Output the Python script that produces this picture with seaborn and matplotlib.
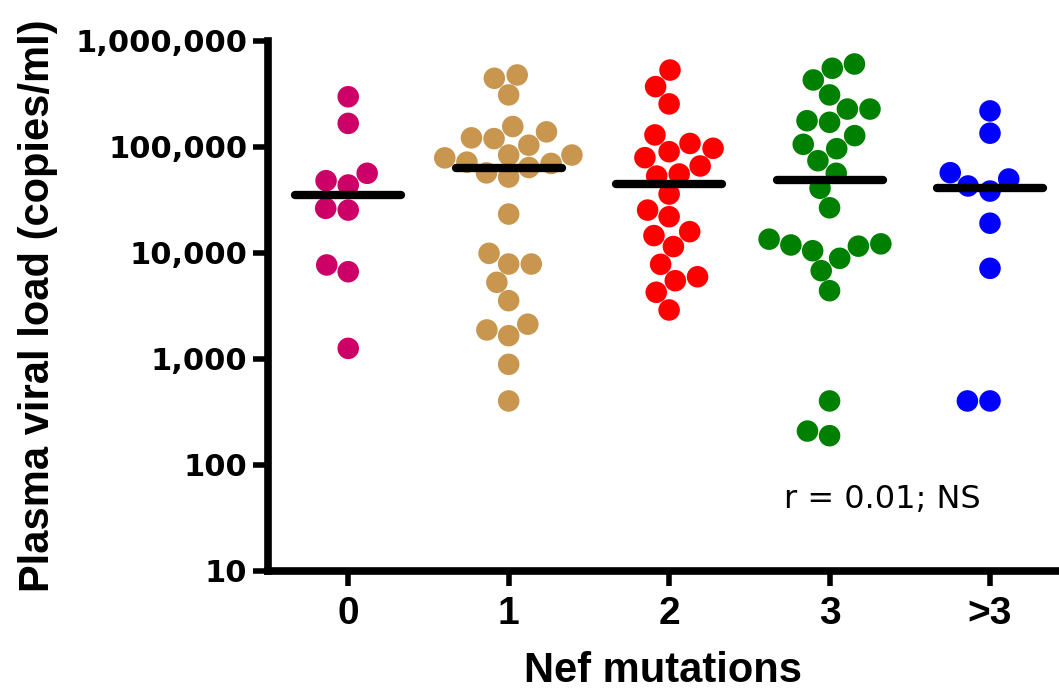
import numpy as np
import pandas as pd
import matplotlib
matplotlib.use("Agg")
import matplotlib.pyplot as plt
import seaborn as sns

# viral load (copies/ml) per Nef mutation group
groups = ["0", "1", "2", "3", ">3"]
load_0 = [1260, 6660, 7710, 25400, 26400, 43800, 48100, 56500, 167000, 298000]
load_1 = [402, 891, 1660, 1880, 2130, 3550, 5290, 7870, 7870, 9930, 23300,
          52000, 57000, 64000, 70000, 72000, 79000, 84000, 84000, 104000,
          120000, 122000, 139000, 156000, 310000, 445000, 478000]
load_2 = [2900, 4260, 5480, 5970, 7820, 11500, 14600, 15900, 22000, 25400,
          36000, 53200, 55600, 66200, 79300, 90300, 97200, 108000, 130000,
          255000, 371000, 532000]
load_3 = [189, 209, 402, 4410, 6810, 8910, 10500, 11600, 11900, 12200, 13500,
          26700, 40800, 56500, 74300, 96400, 106000, 128000, 171000, 177000,
          228000, 228000, 310000, 429000, 553000, 607000]
load_4 = [402, 402, 7170, 19100, 38400, 42900, 49900, 57200, 135000, 219000]
colors = ["#CC0066", "#C8964F", "#FF0000", "#008000", "#0000FF"]
yticks = [10, 100, 1000, 10000, 100000, 1000000]
yticklabels = ["10", "100", "1,000", "10,000", "100,000", "1,000,000"]
annotation = "r = 0.01; NS"

df = pd.concat([
    pd.DataFrame({"group": g, "load": v})
    for g, v in zip(groups, [load_0, load_1, load_2, load_3, load_4])
], ignore_index=True)
df["group"] = pd.Categorical(df["group"], categories=groups, ordered=True)
medians = df.groupby("group", observed=False)["load"].median()

sns.set_style("ticks", {"axes.edgecolor": "black", "text.color": "black",
                        "xtick.color": "black", "ytick.color": "black",
                        "axes.labelcolor": "black"})
plt.rcParams["font.family"] = ["Liberation Sans", "DejaVu Sans"]

fig = plt.figure(figsize=(10.59, 6.94), dpi=100)
ax = fig.add_axes([268 / 1059, 123 / 694, 791 / 1059, 530 / 694])

sns.swarmplot(data=df, x="group", y="load", hue="group", order=groups,
              palette=colors, size=15.5, linewidth=0, legend=False,
              log_scale=True, ax=ax, warn_thresh=1)

# medians as thick black bars
xpos = np.arange(len(groups))
ax.hlines(medians.values, xpos - 0.33, xpos + 0.33,
          color="black", lw=6, capstyle="round", zorder=10)

ax.set_yscale("log")
ax.set_ylim(10, 1000000)
ax.set_xlim(-0.5, 4.43)
ax.set_yticks(yticks)
ax.set_yticklabels(yticklabels, fontfamily="DejaVu Sans", fontweight="bold", fontsize=22)
ax.yaxis.set_minor_locator(matplotlib.ticker.NullLocator())
ax.set_xticks(xpos)
ax.set_xticklabels(groups, fontweight="bold", fontsize=28)

sns.despine(ax=ax)
for side in ["left", "bottom"]:
    ax.spines[side].set_linewidth(5.5)
    ax.spines[side].set_color("black")
    ax.spines[side].set_capstyle("projecting")
ax.tick_params(axis="both", width=4, length=11, color="black", labelcolor="black", pad=4)
ax.tick_params(axis="x", pad=7)

ax.set_xlabel("Nef mutations", fontweight="bold", fontsize=30, labelpad=14, color="black")
ax.set_ylabel("Plasma viral load (copies/ml)", fontweight="bold", fontsize=30, labelpad=12,
              color="black")

ax.text(0.777, 0.134, annotation, transform=ax.transAxes, ha="center", va="center",
        fontfamily="DejaVu Sans", fontsize=23, color="black")

fig.savefig("out.png", dpi=100)
